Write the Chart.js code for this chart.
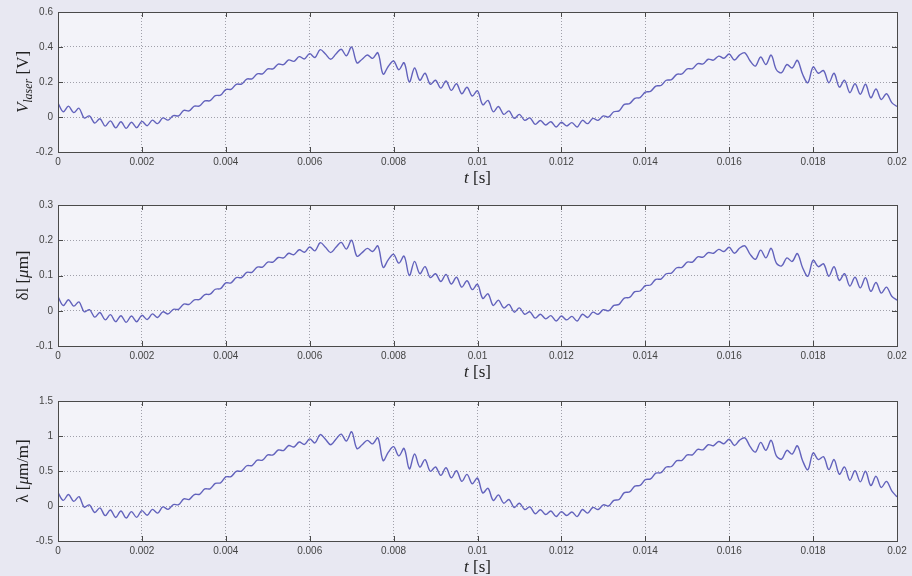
<!DOCTYPE html>
<html>
<head>
<meta charset="utf-8">
<script src="https://cdn.jsdelivr.net/npm/chart.js@4.4.1/dist/chart.umd.min.js"></script>
<style>
  html, body { margin: 0; padding: 0; background: #e8e8f2; }
  body { width: 912px; height: 576px; position: relative; overflow: hidden; }
  canvas { position: absolute; left: 0; }
</style>
</head>
<body>
<canvas id="laserChart" width="912" height="192" style="top:0px"></canvas>
<canvas id="deltaChart" width="912" height="194" style="top:192px"></canvas>
<canvas id="strainChart" width="912" height="190" style="top:386px"></canvas>
<script>
// time base of the samples (s)
const sampleStep = 0.000125;

// V_laser [V]
const vLaser = [
  0.08, 0.03, 0.062, 0.025, 0.05, -0.006, 0.006, -0.035, -0.01, -0.052,
  -0.022, -0.062, -0.027, -0.065, -0.03, -0.061, -0.025, -0.05, -0.018, -0.038,
  -0.005, -0.018, 0.008, 0.007, 0.038, 0.035, 0.062, 0.063, 0.092, 0.093,
  0.122, 0.125, 0.157, 0.158, 0.187, 0.188, 0.217, 0.218, 0.247, 0.247,
  0.275, 0.275, 0.302, 0.299, 0.326, 0.318, 0.345, 0.332, 0.362, 0.34,
  0.385, 0.36, 0.33, 0.36, 0.387, 0.35, 0.40, 0.31, 0.33, 0.354,
  0.335, 0.367, 0.245, 0.29, 0.32, 0.27, 0.31, 0.20, 0.28, 0.21,
  0.25, 0.187, 0.21, 0.165, 0.206, 0.152, 0.19, 0.133, 0.17, 0.12,
  0.15, 0.07, 0.095, 0.03, 0.06, 0.015, 0.035, -0.008, 0.015, -0.019,
  -0.005, -0.042, -0.02, -0.046, -0.027, -0.057, -0.03, -0.051, -0.032, -0.057,
  -0.019, -0.038, -0.008, -0.019, 0.006, 0.0, 0.03, 0.035, 0.072, 0.076,
  0.107, 0.111, 0.142, 0.146, 0.177, 0.18, 0.21, 0.213, 0.244, 0.246,
  0.275, 0.276, 0.305, 0.303, 0.33, 0.325, 0.348, 0.336, 0.36, 0.326,
  0.355, 0.367, 0.32, 0.291, 0.343, 0.30, 0.354, 0.27, 0.253, 0.30,
  0.28, 0.324, 0.244, 0.196, 0.286, 0.25, 0.265, 0.196, 0.25, 0.171,
  0.21, 0.139, 0.19, 0.13, 0.187, 0.11, 0.16, 0.10, 0.133, 0.082,
  0.06
];

// delta l [um]
const deltaL = [
  0.04, 0.015, 0.031, 0.013, 0.025, -0.003, 0.003, -0.018, -0.005, -0.026,
  -0.011, -0.031, -0.014, -0.033, -0.015, -0.031, -0.013, -0.025, -0.009, -0.019,
  -0.003, -0.009, 0.004, 0.004, 0.019, 0.018, 0.031, 0.032, 0.046, 0.047,
  0.061, 0.063, 0.079, 0.079, 0.094, 0.094, 0.109, 0.109, 0.124, 0.124,
  0.138, 0.138, 0.151, 0.15, 0.163, 0.159, 0.173, 0.166, 0.181, 0.17,
  0.193, 0.18, 0.165, 0.18, 0.194, 0.175, 0.2, 0.155, 0.165, 0.177,
  0.168, 0.184, 0.123, 0.145, 0.16, 0.135, 0.155, 0.1, 0.14, 0.105,
  0.125, 0.094, 0.105, 0.083, 0.103, 0.076, 0.095, 0.067, 0.085, 0.06,
  0.075, 0.035, 0.048, 0.015, 0.03, 0.008, 0.018, -0.004, 0.008, -0.01,
  -0.003, -0.021, -0.01, -0.023, -0.014, -0.029, -0.015, -0.026, -0.016, -0.029,
  -0.01, -0.019, -0.004, -0.01, 0.003, 0.0, 0.015, 0.018, 0.036, 0.038,
  0.054, 0.056, 0.071, 0.073, 0.089, 0.09, 0.105, 0.107, 0.122, 0.123,
  0.138, 0.138, 0.153, 0.152, 0.165, 0.163, 0.174, 0.168, 0.18, 0.163,
  0.178, 0.184, 0.16, 0.146, 0.172, 0.15, 0.177, 0.135, 0.127, 0.15,
  0.14, 0.162, 0.122, 0.098, 0.143, 0.125, 0.133, 0.098, 0.125, 0.086,
  0.105, 0.07, 0.095, 0.065, 0.094, 0.055, 0.08, 0.05, 0.067, 0.041,
  0.03
];

// lambda [um/m]
const lambda = [
  0.19, 0.08, 0.164, 0.066, 0.133, -0.016, 0.016, -0.093, -0.027, -0.138,
  -0.058, -0.164, -0.072, -0.172, -0.08, -0.162, -0.066, -0.133, -0.048, -0.101,
  -0.013, -0.048, 0.021, 0.019, 0.101, 0.093, 0.164, 0.167, 0.244, 0.246,
  0.323, 0.331, 0.416, 0.419, 0.496, 0.498, 0.575, 0.578, 0.655, 0.655,
  0.729, 0.729, 0.8, 0.792, 0.864, 0.843, 0.914, 0.88, 0.959, 0.901,
  1.02, 0.954, 0.875, 0.954, 1.026, 0.928, 1.06, 0.822, 0.875, 0.938,
  0.888, 0.973, 0.649, 0.769, 0.848, 0.716, 0.822, 0.53, 0.742, 0.557,
  0.663, 0.496, 0.557, 0.437, 0.546, 0.403, 0.504, 0.352, 0.451, 0.318,
  0.398, 0.186, 0.252, 0.08, 0.159, 0.04, 0.093, -0.021, 0.04, -0.05,
  -0.013, -0.111, -0.053, -0.122, -0.072, -0.151, -0.08, -0.135, -0.085, -0.151,
  -0.05, -0.101, -0.021, -0.05, 0.016, 0.0, 0.08, 0.093, 0.191, 0.201,
  0.284, 0.294, 0.376, 0.387, 0.469, 0.477, 0.557, 0.564, 0.647, 0.652,
  0.729, 0.731, 0.808, 0.803, 0.875, 0.861, 0.922, 0.89, 0.954, 0.864,
  0.941, 0.973, 0.848, 0.771, 0.909, 0.795, 0.938, 0.716, 0.67, 0.795,
  0.742, 0.859, 0.647, 0.519, 0.758, 0.663, 0.702, 0.519, 0.663, 0.453,
  0.557, 0.368, 0.504, 0.345, 0.496, 0.292, 0.424, 0.265, 0.352, 0.217,
  0.13
];

const timeAxis = { min: 0, max: 0.02, step: 0.002 };

const lineColor = '#6262bc';
const serif = "'Liberation Serif', 'DejaVu Serif', serif";
const sans = "'Liberation Sans', Arial, sans-serif";

// light plot background, box frame, inward ticks, axis labels (italic symbols, subscript)
const matlabBox = {
  id: 'matlabBox',
  beforeDraw(chart) {
    const a = chart.chartArea, ctx = chart.ctx;
    ctx.save();
    ctx.fillStyle = '#f3f3f9';
    ctx.fillRect(a.left, a.top, a.right - a.left, a.bottom - a.top);
    ctx.restore();
  },
  afterDraw(chart, args, opts) {
    const a = chart.chartArea, ctx = chart.ctx;
    const xs = chart.scales.x, ys = chart.scales.y;
    ctx.save();
    ctx.strokeStyle = '#4a4a4a';
    ctx.lineWidth = 1;
    ctx.beginPath();
    xs.ticks.forEach(t => {
      const px = Math.round(xs.getPixelForValue(t.value)) + 0.5;
      ctx.moveTo(px, a.bottom); ctx.lineTo(px, a.bottom - 5);
      ctx.moveTo(px, a.top); ctx.lineTo(px, a.top + 5);
    });
    ys.ticks.forEach(t => {
      const py = Math.round(ys.getPixelForValue(t.value)) + 0.5;
      ctx.moveTo(a.left, py); ctx.lineTo(a.left + 5, py);
      ctx.moveTo(a.right, py); ctx.lineTo(a.right - 5, py);
    });
    ctx.stroke();
    ctx.strokeRect(Math.round(a.left) + 0.5, Math.round(a.top) + 0.5,
      Math.round(a.right - a.left), Math.round(a.bottom - a.top));

    ctx.fillStyle = '#222';
    ctx.textBaseline = 'alphabetic';
    const measure = parts => parts.reduce((s, p) => {
      ctx.font = p.font; p.w = ctx.measureText(p.text).width; return s + p.w;
    }, 0);
    const put = (parts, x0) => {
      let x = x0;
      parts.forEach(p => { ctx.font = p.font; ctx.fillText(p.text, x, p.dy || 0); x += p.w; });
    };

    // x label under the tick labels
    const xp = opts.xParts || [];
    const xw = measure(xp);
    ctx.save();
    ctx.translate(0, a.bottom + 31);
    put(xp, (a.left + a.right) / 2 - xw / 2);
    ctx.restore();

    // y label, rotated
    const yp = opts.yParts || [];
    const yw = measure(yp);
    ctx.translate(28, (a.top + a.bottom) / 2);
    ctx.rotate(-Math.PI / 2);
    put(yp, -yw / 2);
    ctx.restore();
  }
};

function fmt(v) { return String(+v.toFixed(4)); }

const tLabel = [
  { text: 't', font: 'italic 17px ' + serif },
  { text: ' [s]', font: '17px ' + serif }
];

function makeChart(id, values, yMin, yMax, yStep, yParts, padTop, padBottom) {
  const points = values.map((v, i) => ({ x: i * sampleStep, y: v }));
  return new Chart(document.getElementById(id), {
    type: 'line',
    data: {
      datasets: [{
        data: points,
        borderColor: lineColor,
        borderWidth: 1.4,
        pointRadius: 0,
        fill: false,
        tension: 0.35
      }]
    },
    options: {
      responsive: false,
      animation: false,
      devicePixelRatio: 1,
      layout: { padding: { top: padTop, bottom: padBottom, left: 0, right: 15 } },
      scales: {
        x: {
          type: 'linear',
          min: timeAxis.min,
          max: timeAxis.max,
          grid: { color: '#a0a0aa', lineWidth: 1, drawTicks: false },
          border: { display: false, dash: [1, 2] },
          ticks: {
            stepSize: timeAxis.step,
            autoSkip: false,
            maxRotation: 0,
            padding: 4,
            color: '#444',
            font: { family: sans, size: 10 },
            callback: v => fmt(v)
          },
          afterFit: s => { s.height = 35; }
        },
        y: {
          min: yMin,
          max: yMax,
          grid: { color: '#a0a0aa', lineWidth: 1, drawTicks: false },
          border: { display: false, dash: [1, 2] },
          ticks: {
            stepSize: yStep,
            padding: 5,
            color: '#444',
            font: { family: sans, size: 10 },
            callback: v => fmt(v)
          },
          afterFit: s => { s.width = 58; }
        }
      },
      plugins: {
        legend: { display: false },
        tooltip: { enabled: false },
        matlabBox: { yParts: yParts, xParts: tLabel }
      }
    },
    plugins: [matlabBox]
  });
}

makeChart('laserChart', vLaser, -0.2, 0.6, 0.2, [
  { text: 'V', font: 'italic 17px ' + serif },
  { text: 'laser', font: 'italic 12px ' + serif, dy: 4 },
  { text: ' [V]', font: '17px ' + serif }
], 12, 5);

makeChart('deltaChart', deltaL, -0.1, 0.3, 0.1, [
  { text: '\u03b4l [', font: '17px ' + serif },
  { text: '\u03bc', font: 'italic 17px ' + serif },
  { text: 'm]', font: '17px ' + serif }
], 13, 5);

makeChart('strainChart', lambda, -0.5, 1.5, 0.5, [
  { text: '\u03bb [', font: '17px ' + serif },
  { text: '\u03bc', font: 'italic 17px ' + serif },
  { text: 'm/m]', font: '17px ' + serif }
], 15, 0);
</script>
</body>
</html>
